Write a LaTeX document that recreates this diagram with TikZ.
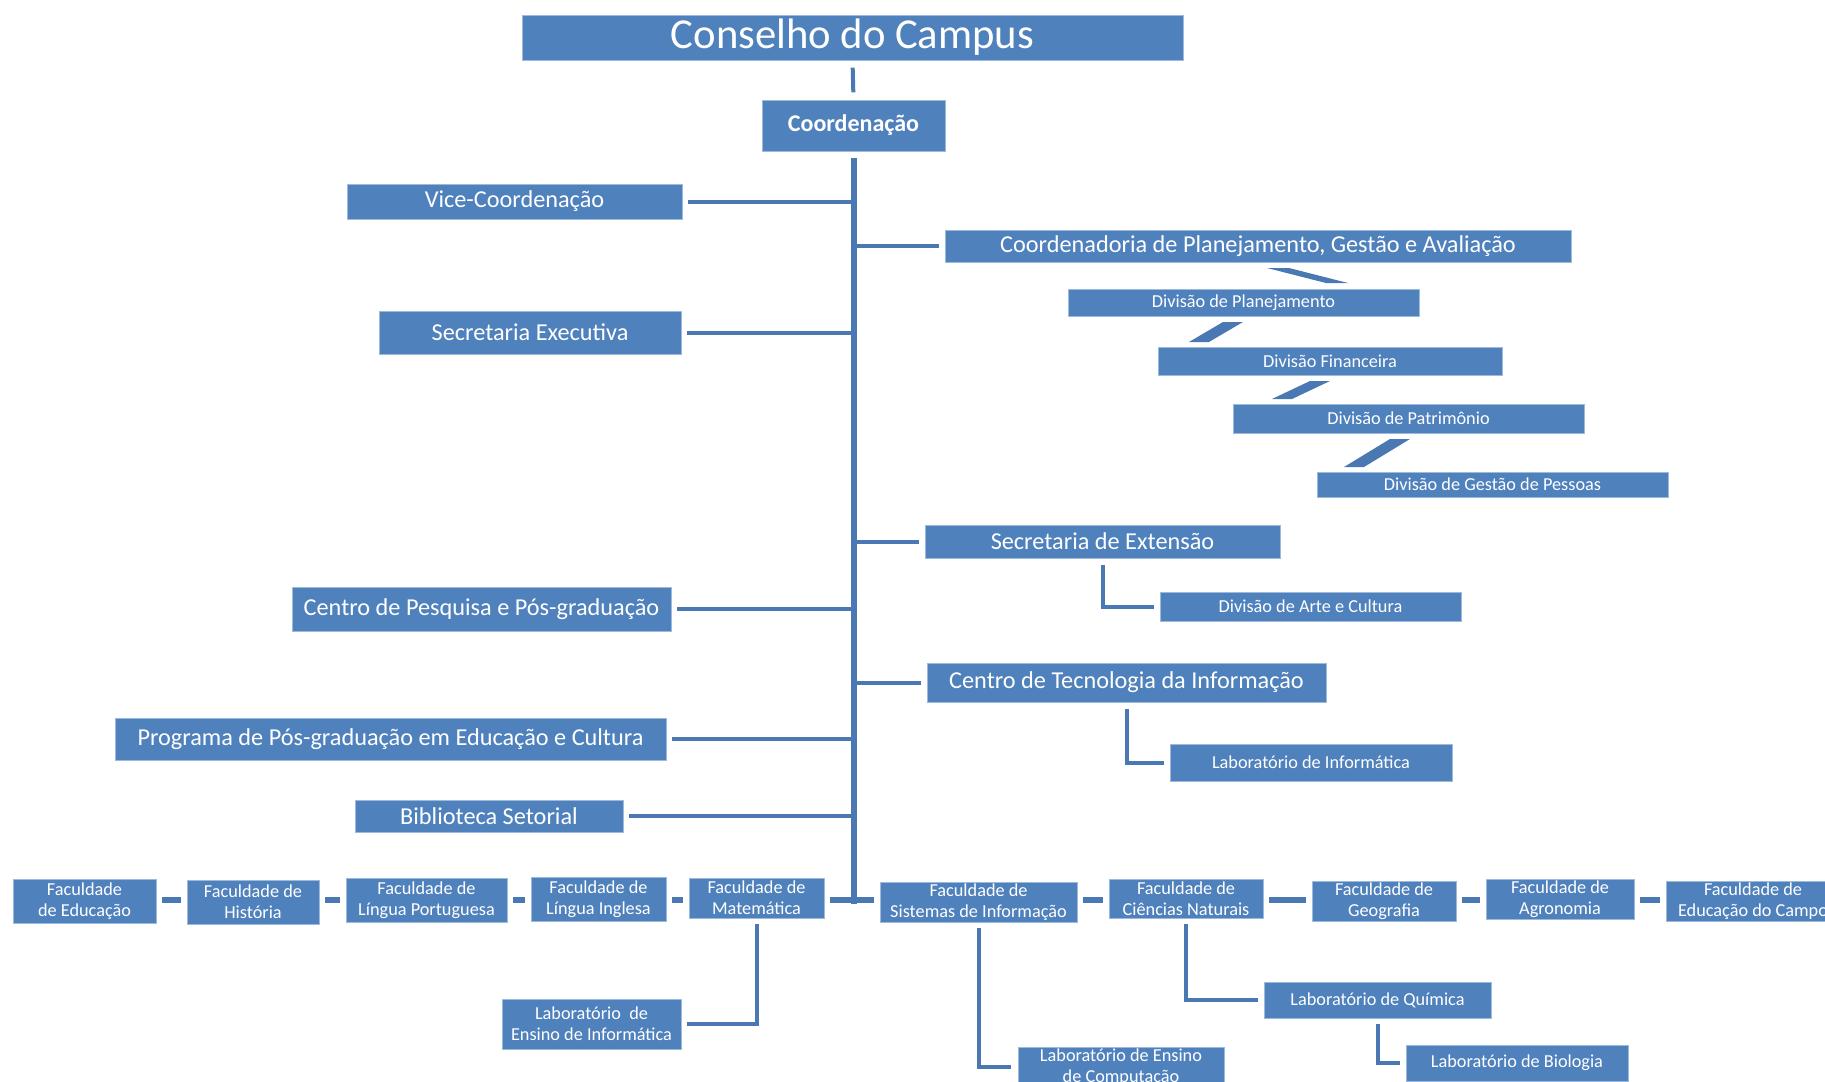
\documentclass[tikz,border=0pt]{standalone}
\usepackage{fontspec}
\setmainfont{Carlito}
\usetikzlibrary{calc}
\definecolor{boxblue}{HTML}{4F81BD}
\definecolor{lineblue}{HTML}{4A78B2}
\tikzset{
  orgbox/.style={rectangle, fill=boxblue, draw=boxblue!55!white, line width=0.5pt, text=white, inner sep=0pt, align=center},
  bigbox/.style={orgbox, font=\fontsize{32}{36}\selectfont},
  midbox/.style={orgbox, font=\fontsize{18.2}{21}\selectfont},
  boldbox/.style={orgbox, font=\fontsize{18}{21}\selectfont\bfseries},
  smlbox/.style={orgbox, font=\fontsize{13.7}{15.6}\selectfont},
  conn/.style={draw=lineblue, line width=3pt},
  trunkline/.style={draw=lineblue, line width=4pt},
  dashc/.style={draw=lineblue, line width=5pt, shorten <=4.5pt, shorten >=4.5pt},
}
\newcommand\bx[7]{\node[#6, minimum width={0.75pt*(#4-#2)}, minimum height={0.75pt*(#5-#3)}] (#1) at ({(#2+#4)/2},{(#3+#5)/2}) {#7};}
\newcommand\slant[3]{\fill[lineblue] ($(#1)+(-#3,0)$) -- ($(#1)+(#3,0)$) -- ($(#2)+(#3,0)$) -- ($(#2)+(-#3,0)$) -- cycle;}
\begin{document}
\begin{tikzpicture}[x=0.75pt, y=-0.75pt]
\useasboundingbox (0,0) rectangle (1825,1082);
\clip (0,0) rectangle (1825,1082);
% top
\bx{cons}{522}{15}{1183}{60}{bigbox}{Conselho do Campus}
\bx{coord}{762}{100}{945}{151}{boldbox}{Coordenação}
% left side
\bx{vice}{347}{184}{682}{219}{midbox}{Vice-Coordenação}
\bx{sexec}{379}{311}{681}{354}{midbox}{Secretaria Executiva}
\bx{cpesq}{292}{587}{671}{631}{midbox}{Centro de Pesquisa e Pós-graduação}
\bx{ppg}{115}{718}{666}{760}{midbox}{Programa de Pós-graduação em Educação e Cultura}
\bx{bib}{355}{800}{623}{832}{midbox}{Biblioteca Setorial}
% right side
\bx{cpga}{945}{230}{1571}{262}{midbox}{Coordenadoria de Planejamento, Gestão e Avaliação}
\bx{dplan}{1068}{289}{1419}{316}{smlbox}{Divisão de Planejamento}
\bx{dfin}{1158}{347}{1502}{375}{smlbox}{Divisão Financeira}
\bx{dpat}{1233}{404}{1584}{433}{smlbox}{Divisão de Patrimônio}
\bx{dgp}{1317}{472}{1668}{497}{smlbox}{Divisão de Gestão de Pessoas}
\bx{sext}{925}{525}{1280}{558}{midbox}{Secretaria de Extensão}
\bx{dart}{1160}{592}{1461}{621}{smlbox}{Divisão de Arte e Cultura}
\bx{cti}{927}{663}{1326}{702}{midbox}{Centro de Tecnologia da Informação}
\bx{linf}{1170}{744}{1452}{781}{smlbox}{Laboratório de Informática}
% bottom row
\bx{fe}{13}{879}{156}{923}{smlbox}{Faculdade\\de Educação}
\bx{fh}{187}{880}{319}{924}{smlbox}{Faculdade de\\História}
\bx{flp}{346}{878}{507}{922}{smlbox}{Faculdade de\\Língua Portuguesa}
\bx{fli}{531}{877}{666}{921}{smlbox}{Faculdade de\\Língua Inglesa}
\bx{fm}{689}{878}{824}{918}{smlbox}{Faculdade de\\Matemática}
\bx{fsi}{880}{882}{1077}{922}{smlbox}{Faculdade de\\Sistemas de Informação}
\bx{fcn}{1109}{879}{1263}{918}{smlbox}{Faculdade de\\Ciências Naturais}
\bx{fg}{1312}{881}{1456}{921}{smlbox}{Faculdade de\\Geografia}
\bx{fa}{1486}{879}{1634}{919}{smlbox}{Faculdade de\\Agronomia}
\bx{fec}{1666}{881}{1840}{921}{smlbox}{Faculdade de\\Educação do Campo}
% labs
\bx{lei}{502}{999}{681}{1049}{smlbox}{Laboratório\ \ de\\Ensino de Informática}
\bx{lec}{1018}{1047}{1224}{1087}{smlbox}{Laboratório de Ensino\\de Computação}
\bx{lq}{1264}{982}{1491}{1018}{smlbox}{Laboratório de Química}
\bx{lb}{1406}{1045}{1628}{1081}{smlbox}{Laboratório de Biologia}

% trunk
\coordinate (ttop) at (854,158);
\coordinate (tbot) at (854,904);
\coordinate (rowy) at (0,900);
\draw[trunkline] (ttop) -- (tbot);
\draw[conn, shorten <=5.5pt, shorten >=5.5pt] (cons.south) -- (coord.north);
% left branches
\foreach \n in {vice,sexec,cpesq,ppg,bib}
  \draw[conn, shorten <=4.5pt] (\n.east) -- (\n.east -| ttop);
% right branches
\foreach \n in {cpga,sext,cti}
  \draw[conn, shorten <=4pt] (\n.west) -- (\n.west -| ttop);
% elbows
\draw[conn, shorten <=5pt, shorten >=4.5pt] (sext.south) |- (dart.west);
\draw[conn, shorten <=5pt, shorten >=4.5pt] (cti.south) |- (linf.west);
\draw[conn, shorten <=4.5pt, shorten >=4.5pt] (fm.south) |- (lei.east);
\draw[conn, shorten <=4.5pt, shorten >=5pt] (fsi.south) |- (lec.west);
\draw[conn, shorten <=4pt, shorten >=4pt] (fcn.south) |- (lq.west);
\draw[conn, shorten <=4pt, shorten >=4.5pt] (lq.south) |- (lb.west);
% bottom dashes
\foreach \a/\b in {fe/fh, fh/flp, flp/fli, fli/fm, fm/fsi, fsi/fcn, fcn/fg, fg/fa, fa/fec}
  \draw[dashc] (\a.east |- rowy) -- (\b.west |- rowy);
% slanted connectors between divisions
\coordinate (d1a) at (1278,268); \coordinate (d1b) at (1337,283);
\coordinate (d2a) at (1233,322); \coordinate (d2b) at (1199,342);
\coordinate (d3a) at (1320,381); \coordinate (d3b) at (1282,399);
\coordinate (d4a) at (1400,439); \coordinate (d4b) at (1354,467);
\slant{d1a}{d1b}{11}
\slant{d2a}{d2b}{10}
\slant{d3a}{d3b}{10}
\slant{d4a}{d4b}{10}
\end{tikzpicture}
\end{document}
